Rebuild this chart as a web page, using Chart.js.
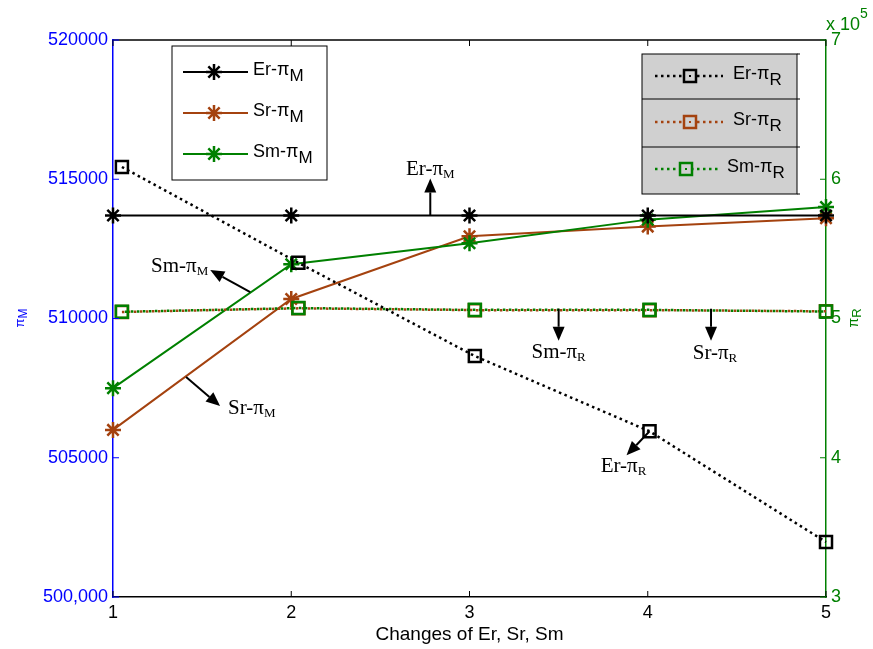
<!DOCTYPE html>
<html>
<head>
<meta charset="utf-8">
<script src="https://cdn.jsdelivr.net/npm/chart.js@4.4.0/dist/chart.umd.min.js"></script>
<style>
  html, body { margin: 0; padding: 0; background: #fff; }
</style>
</head>
<body>
<canvas id="chart" width="873" height="649"></canvas>
<script>
// x positions (changes of Er, Sr, Sm)
const changes = [1, 2, 3, 4, 5];
// square markers sit a little to the right of the ticks in the original
const changesR = [1.05, 2.04, 3.03, 4.01, 5.0];

// pi_M series (left axis)
const erM = [513700, 513700, 513700, 513700, 513700];
const srM = [506000, 510700, 512950, 513300, 513600];
const smM = [507500, 511950, 512700, 513550, 514000];

// pi_R series (right axis)
const erR = [608800, 540000, 473000, 419000, 339500];
const srR = [504700, 507300, 506000, 506000, 505200];
const smR = [504800, 507500, 506200, 506200, 505000];

// tick labels
const leftTicks = ['500,000', '505000', '510000', '515000', '520000'];
const rightTicks = ['3', '4', '5', '6', '7'];
const xTicks = ['1', '2', '3', '4', '5'];

const BLUE = '#0000ff';
const GREEN = '#008000';
const BROWN = '#a4420f';

// arrow notes: anchor in data units, tip/label offsets in px
const notes = [
    { main: 'Er-π', sub: 'M', x: 2.78, y: 513700, axis: 'yM', tip: [0, -37], label: [0, -48], align: 'center' },
    { main: 'Sm-π', sub: 'M', x: 1.77, y: 510950, axis: 'yM', tip: [-40, -22], label: [-42, -27], align: 'right' },
    { main: 'Sr-π', sub: 'M', x: 1.41, y: 507900, axis: 'yM', tip: [34, 29], label: [42, 30], align: 'left' },
    { main: 'Sm-π', sub: 'R', x: 3.50, y: 507000, axis: 'yR', tip: [0, 32], label: [0, 42], align: 'center' },
    { main: 'Sr-π', sub: 'R', x: 4.355, y: 507000, axis: 'yR', tip: [0, 32], label: [4, 43], align: 'center' },
    { main: 'Er-π', sub: 'R', x: 4.01, y: 419000, axis: 'yR', tip: [-23, 24], label: [-26, 33], align: 'center' }
];

function pts(xs, ys) {
    return xs.map((x, i) => ({ x: x, y: ys[i] }));
}

// text with a subscript
function subText(ctx, main, sub, x, y, o) {
    ctx.font = o.size + 'px ' + o.family;
    const w1 = ctx.measureText(main).width;
    ctx.font = o.subSize + 'px ' + o.family;
    const w2 = ctx.measureText(sub).width;
    let x0 = x;
    if (o.align === 'center') x0 = x - (w1 + w2) / 2;
    else if (o.align === 'right') x0 = x - w1 - w2;
    ctx.fillStyle = o.color;
    ctx.textAlign = 'left';
    ctx.textBaseline = 'alphabetic';
    const base = y + o.size * 0.35;
    ctx.font = o.size + 'px ' + o.family;
    ctx.fillText(main, x0, base);
    ctx.font = o.subSize + 'px ' + o.family;
    ctx.fillText(sub, x0 + w1, base + o.drop);
}

function star(ctx, x, y, r, color) {
    ctx.save();
    ctx.strokeStyle = color;
    ctx.lineWidth = 2.5;
    ctx.beginPath();
    for (let k = 0; k < 4; k++) {
        const a = k * Math.PI / 4;
        ctx.moveTo(x - r * Math.cos(a), y - r * Math.sin(a));
        ctx.lineTo(x + r * Math.cos(a), y + r * Math.sin(a));
    }
    ctx.stroke();
    ctx.restore();
}

function square(ctx, x, y, s, color) {
    ctx.save();
    ctx.strokeStyle = color;
    ctx.lineWidth = 2.5;
    ctx.strokeRect(x - s / 2, y - s / 2, s, s);
    ctx.restore();
}

function arrow(ctx, x0, y0, x1, y1) {
    const a = Math.atan2(y1 - y0, x1 - x0);
    const len = 14, half = 6;
    const bx = x1 - len * Math.cos(a), by = y1 - len * Math.sin(a);
    ctx.save();
    ctx.strokeStyle = '#000';
    ctx.fillStyle = '#000';
    ctx.lineWidth = 2;
    ctx.beginPath();
    ctx.moveTo(x0, y0);
    ctx.lineTo(bx, by);
    ctx.stroke();
    ctx.beginPath();
    ctx.moveTo(x1, y1);
    ctx.lineTo(bx + half * Math.sin(a), by - half * Math.cos(a));
    ctx.lineTo(bx - half * Math.sin(a), by + half * Math.cos(a));
    ctx.closePath();
    ctx.fill();
    ctx.restore();
}

const extras = {
    id: 'extras',
    afterDraw(chart) {
        const ctx = chart.ctx;
        const area = chart.chartArea;
        const sx = chart.scales.x, sm = chart.scales.yM, sr = chart.scales.yR;

        ctx.save();
        // top frame
        ctx.strokeStyle = '#000';
        ctx.lineWidth = 1.5;
        ctx.beginPath();
        ctx.moveTo(area.left, area.top);
        ctx.lineTo(area.right, area.top);
        ctx.stroke();

        // inward ticks
        ctx.lineWidth = 1;
        changes.forEach(v => {
            const px = sx.getPixelForValue(v);
            ctx.beginPath();
            ctx.moveTo(px, area.bottom); ctx.lineTo(px, area.bottom - 6);
            ctx.moveTo(px, area.top); ctx.lineTo(px, area.top + 6);
            ctx.stroke();
        });
        ctx.strokeStyle = BLUE;
        sm.ticks.forEach(t => {
            const py = sm.getPixelForValue(t.value);
            ctx.beginPath(); ctx.moveTo(area.left, py); ctx.lineTo(area.left + 6, py); ctx.stroke();
        });
        ctx.strokeStyle = GREEN;
        sr.ticks.forEach(t => {
            const py = sr.getPixelForValue(t.value);
            ctx.beginPath(); ctx.moveTo(area.right, py); ctx.lineTo(area.right - 6, py); ctx.stroke();
        });

        // axis titles
        ctx.save();
        ctx.translate(19, 318);
        ctx.rotate(-Math.PI / 2);
        subText(ctx, 'π', 'M', 0, 0, { family: 'Liberation Sans', size: 13, subSize: 12, drop: 3, color: BLUE, align: 'center' });
        ctx.restore();
        ctx.save();
        ctx.translate(853, 318);
        ctx.rotate(-Math.PI / 2);
        subText(ctx, 'π', 'R', 0, 0, { family: 'Liberation Sans', size: 14, subSize: 13, drop: 3, color: GREEN, align: 'center' });
        ctx.restore();

        // x 10^5
        ctx.fillStyle = GREEN;
        ctx.textAlign = 'left';
        ctx.textBaseline = 'alphabetic';
        ctx.font = '18px Liberation Sans';
        ctx.fillText('x 10', 826, 30);
        ctx.font = '14px Liberation Sans';
        ctx.fillText('5', 860, 18);

        // x title
        ctx.fillStyle = '#000';
        ctx.font = '19px Liberation Sans';
        ctx.textAlign = 'center';
        ctx.fillText('Changes of Er, Sr, Sm', (area.left + area.right) / 2, 640);

        // notes
        notes.forEach(n => {
            const ax = sx.getPixelForValue(n.x);
            const ay = chart.scales[n.axis].getPixelForValue(n.y);
            arrow(ctx, ax, ay, ax + n.tip[0], ay + n.tip[1]);
            subText(ctx, n.main, n.sub, ax + n.label[0], ay + n.label[1],
                { family: 'Liberation Serif', size: 21, subSize: 13, drop: 3, color: '#000', align: n.align });
        });

        // legend for pi_M
        ctx.fillStyle = '#fff';
        ctx.fillRect(172, 46, 155, 134);
        ctx.strokeStyle = '#000';
        ctx.lineWidth = 1;
        ctx.strokeRect(172, 46, 155, 134);
        const mRows = [['Er-π', '#000', 72], ['Sr-π', BROWN, 113], ['Sm-π', GREEN, 154]];
        mRows.forEach(r => {
            ctx.strokeStyle = r[1];
            ctx.lineWidth = 2;
            ctx.beginPath(); ctx.moveTo(183, r[2]); ctx.lineTo(248, r[2]); ctx.stroke();
            star(ctx, 214, r[2], 8, r[1]);
            subText(ctx, r[0], 'M', 253, r[2] - 3, { family: 'Liberation Sans', size: 18, subSize: 17, drop: 6, color: '#000', align: 'left' });
        });

        // legend for pi_R
        ctx.fillStyle = '#d0d0d0';
        ctx.fillRect(642, 54, 155, 140);
        ctx.strokeStyle = '#000';
        ctx.lineWidth = 1;
        ctx.strokeRect(642, 54, 155, 140);
        [99, 147].forEach(y => {
            ctx.beginPath(); ctx.moveTo(642, y); ctx.lineTo(797, y); ctx.stroke();
        });
        [54, 99, 147, 194].forEach(y => {
            ctx.beginPath(); ctx.moveTo(797, y); ctx.lineTo(800, y); ctx.stroke();
        });
        const rRows = [['Er-π', '#000', 76, 690, 723, 733], ['Sr-π', BROWN, 122, 690, 723, 733], ['Sm-π', GREEN, 169, 686, 718, 727]];
        rRows.forEach(r => {
            ctx.save();
            ctx.strokeStyle = r[1];
            ctx.lineWidth = 2.5;
            ctx.setLineDash([2.5, 3.5]);
            ctx.beginPath(); ctx.moveTo(655, r[2]); ctx.lineTo(r[4], r[2]); ctx.stroke();
            ctx.restore();
            ctx.fillStyle = '#d0d0d0';
            ctx.fillRect(r[3] - 6, r[2] - 6, 12, 12);
            square(ctx, r[3], r[2], 12, r[1]);
            ctx.fillStyle = r[1];
            ctx.fillRect(r[3] - 1, r[2] - 1, 2, 2);
            subText(ctx, r[0], 'R', r[5], r[2] - 3, { family: 'Liberation Sans', size: 18, subSize: 17, drop: 6, color: '#000', align: 'left' });
        });
        ctx.restore();
    }
};

new Chart(document.getElementById('chart'), {
    type: 'line',
    data: {
        datasets: [
            { label: 'Er-πR', data: pts(changesR, erR), yAxisID: 'yR', clip: false, borderColor: '#000', borderWidth: 2.5, borderDash: [2.5, 3.5],
              pointStyle: 'rect', pointRadius: 8.5, pointBorderWidth: 2.5, pointBorderColor: '#000', pointBackgroundColor: 'rgba(0,0,0,0)' },
            { label: 'Sm-πR', data: pts(changesR, smR), yAxisID: 'yR', clip: false, borderColor: GREEN, borderWidth: 2.5, borderDash: [2.5, 3.5], borderDashOffset: 3,
              pointStyle: 'rect', pointRadius: 8.5, pointBorderWidth: 2.5, pointBorderColor: GREEN, pointBackgroundColor: 'rgba(0,0,0,0)' },
            { label: 'Sr-πR', data: pts(changesR, srR), yAxisID: 'yR', clip: false, borderColor: BROWN, borderWidth: 2.5, borderDash: [2.5, 3.5],
              pointStyle: 'rect', pointRadius: 8.5, pointBorderWidth: 2.5, pointBorderColor: BROWN, pointBackgroundColor: 'rgba(0,0,0,0)' },
            { label: 'Er-πM', data: pts(changes, erM), yAxisID: 'yM', clip: false, borderColor: '#000', borderWidth: 2,
              pointStyle: 'star', pointRadius: 8, pointBorderWidth: 2.5, pointBorderColor: '#000' },
            { label: 'Sm-πM', data: pts(changes, smM), yAxisID: 'yM', clip: false, borderColor: GREEN, borderWidth: 2,
              pointStyle: 'star', pointRadius: 8, pointBorderWidth: 2.5, pointBorderColor: GREEN },
            { label: 'Sr-πM', data: pts(changes, srM), yAxisID: 'yM', clip: false, borderColor: BROWN, borderWidth: 2,
              pointStyle: 'star', pointRadius: 8, pointBorderWidth: 2.5, pointBorderColor: BROWN }
        ]
    },
    options: {
        responsive: false,
        animation: false,
        layout: { padding: { top: 40, left: 0, right: 0, bottom: 0 } },
        plugins: { legend: { display: false }, tooltip: { enabled: false } },
        elements: { line: { tension: 0, fill: false } },
        scales: {
            x: {
                type: 'linear', position: 'bottom', min: 1, max: 5,
                grid: { display: false, drawTicks: false, tickLength: 0 },
                border: { display: true, color: '#000', width: 1.5 },
                ticks: {
                    stepSize: 1, padding: 5, color: '#000',
                    font: { family: 'Liberation Sans', size: 18 },
                    callback: (v) => xTicks[v - 1]
                },
                afterFit: (s) => { s.height = 52; }
            },
            yM: {
                type: 'linear', position: 'left', min: 500000, max: 520000,
                grid: { display: false, drawTicks: false, tickLength: 0 },
                border: { display: true, color: BLUE, width: 1.5 },
                ticks: {
                    stepSize: 5000, padding: 5, color: BLUE,
                    font: { family: 'Liberation Sans', size: 18 },
                    callback: (v) => leftTicks[(v - 500000) / 5000]
                },
                afterFit: (s) => { s.width = 113; }
            },
            yR: {
                type: 'linear', position: 'right', min: 300000, max: 700000,
                grid: { display: false, drawTicks: false, tickLength: 0 },
                border: { display: true, color: GREEN, width: 1.5 },
                ticks: {
                    stepSize: 100000, padding: 5, color: GREEN,
                    font: { family: 'Liberation Sans', size: 18 },
                    callback: (v) => rightTicks[(v - 300000) / 100000]
                },
                afterFit: (s) => { s.width = 47; }
            }
        }
    },
    plugins: [extras]
});
</script>
</body>
</html>
